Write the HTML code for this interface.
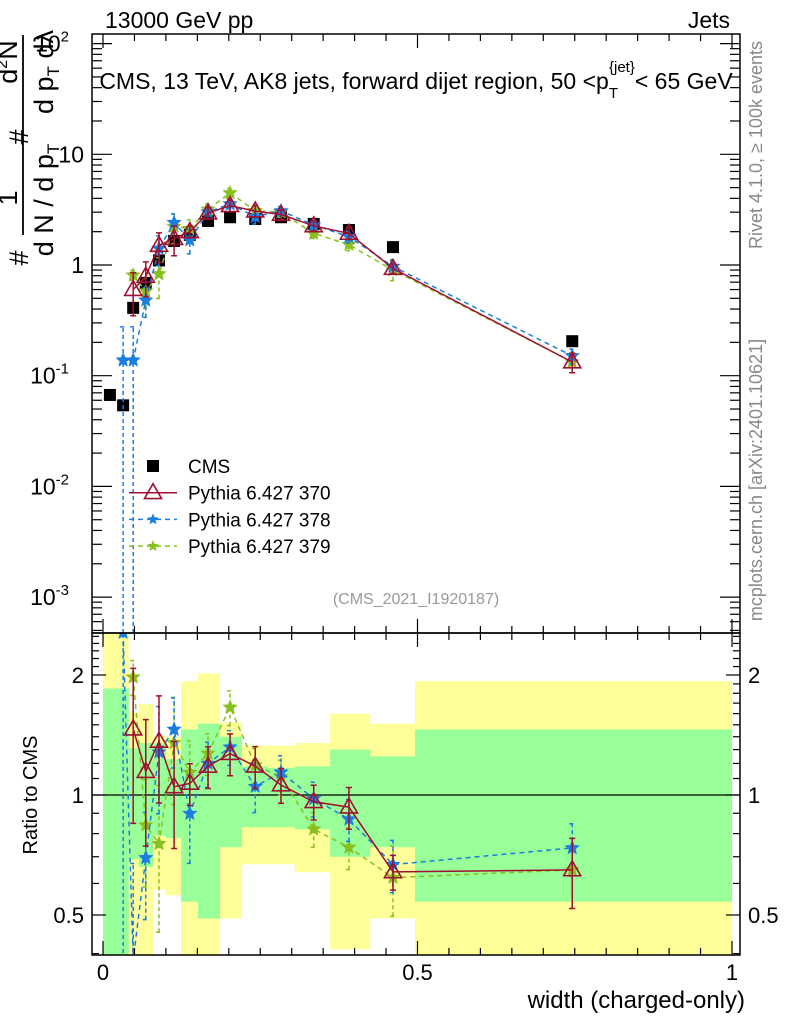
<!DOCTYPE html>
<html><head><meta charset="utf-8"><style>
html,body{margin:0;padding:0;background:#fff;width:786px;height:1024px;overflow:hidden;}
svg{display:block;font-family:"Liberation Sans",sans-serif;}
</style></head><body>
<svg id="plot" width="786" height="1024" viewBox="0 0 786 1024" xmlns="http://www.w3.org/2000/svg">
<defs>
<clipPath id="clipMain"><rect x="92" y="34" width="648" height="599"/></clipPath>
<clipPath id="clipRatio"><rect x="92" y="633" width="648" height="322"/></clipPath>
</defs>
<g id="bands" clip-path="url(#clipRatio)"></g>
<g id="mainSeries" clip-path="url(#clipMain)"></g>
<g id="ratioSeries" clip-path="url(#clipRatio)"></g>
<rect x="92" y="34" width="648" height="599" fill="none" stroke="#000" stroke-width="1.5"/>
<rect x="92" y="633" width="648" height="322" fill="none" stroke="#000" stroke-width="1.5"/>
<g id="ticks"></g>
<text x="105" y="28" font-size="23">13000 GeV pp</text>
<text x="730" y="28" font-size="23" text-anchor="end">Jets</text>
<text x="416" y="89" font-size="23" text-anchor="middle">CMS, 13 TeV, AK8 jets, forward dijet region, 50 &lt;p<tspan font-size="15" dy="9">T</tspan><tspan font-size="15" dy="-26" dx="-9">{jet}</tspan><tspan dy="17">&lt; 65 GeV</tspan></text>
<text transform="translate(762,145) rotate(-90)" font-size="18" fill="#888" text-anchor="middle">Rivet 4.1.0, ≥ 100k events</text>
<text transform="translate(762,480) rotate(-90)" font-size="18" fill="#888" text-anchor="middle">mcplots.cern.ch [arXiv:2401.10621]</text>
<text x="416" y="604" font-size="16" fill="#999" text-anchor="middle">(CMS_2021_I1920187)</text>
<g font-size="27">
<line x1="23" y1="35" x2="23" y2="235" stroke="#000" stroke-width="1.8"/>
<text transform="translate(28,258) rotate(-90)" text-anchor="middle">#</text>
<text transform="translate(17,198) rotate(-90)" text-anchor="middle">1</text>
<text transform="translate(53,200) rotate(-90)" text-anchor="middle">d N / d p<tspan font-size="17" dy="6">T</tspan></text>
<text transform="translate(28,137) rotate(-90)" text-anchor="middle">#</text>
<text transform="translate(17,62) rotate(-90)" text-anchor="middle">d<tspan font-size="16" dy="-10">2</tspan><tspan dy="10">N</tspan></text>
<text transform="translate(53,72) rotate(-90)" text-anchor="middle">d p<tspan font-size="17" dy="6">T</tspan><tspan dy="-6"> dλ</tspan></text>
</g>
<text transform="translate(37,795) rotate(-90)" font-size="20" text-anchor="middle">Ratio to CMS</text>
<text x="745" y="1008" font-size="24" text-anchor="end">width (charged-only)</text>
<g id="legend"></g>
</svg>
<script>
const binEdges=[0,0.02,0.04,0.055,0.08,0.1,0.125,0.15,0.185,0.22,0.26,0.305,0.36,0.425,0.495,1];
const binCenters=[0.011,0.032,0.048,0.068,0.089,0.113,0.138,0.167,0.202,0.242,0.283,0.335,0.391,0.461,0.746];
const cmsValues=[0.067,0.054,0.41,0.69,1.1,1.65,1.87,2.5,2.7,2.6,2.7,2.35,2.07,1.45,0.205];
const py370=[null,null,0.60,0.79,1.5,1.73,2.0,2.95,3.43,3.07,2.86,2.26,1.93,0.93,0.133];
const py370Err=[0,0,0.42,0.35,0.3,0.3,0.12,0.12,0.12,0.12,0.1,0.1,0.12,0.1,0.2];
const py378=[null,0.138,0.138,0.48,1.41,2.41,1.68,3.0,3.56,2.73,3.08,2.30,1.80,0.97,0.151];
const py378Err=[0,1.0,1.0,0.3,0.3,0.2,0.25,0.13,0.1,0.14,0.1,0.1,0.12,0.15,0.15];
const py379=[null,null,0.81,0.58,0.83,2.23,2.13,3.18,4.48,3.09,3.0,1.93,1.53,0.90,0.133];
const py379Err=[0,0,0.1,0.3,0.4,0.3,0.2,0.12,0.1,0.1,0.1,0.1,0.12,0.2,0.2];
const greenHi=[1.85,1.31,1.35,1.35,1.23,1.46,1.51,1.40,1.18,1.17,1.18,1.30,1.25,1.46];
const greenLo=[0.01,0.69,0.66,0.79,0.78,0.54,0.49,0.74,0.83,0.83,0.82,0.70,0.74,0.54];
const yellowHi=[3,1.61,1.69,1.41,1.40,1.93,2.02,1.52,1.33,1.33,1.35,1.60,1.51,1.93];
const yellowLo=[0.01,0.01,0.01,0.58,0.56,0.01,0.01,0.49,0.67,0.67,0.64,0.41,0.49,0.01];
const bandEdges=[0,0.041,0.057,0.08,0.1,0.124,0.151,0.186,0.221,0.261,0.305,0.361,0.425,0.496,1.0];
const xTicks=[0,0.5,1];
const yTickExps=[-3,-2,-1,0,1,2];
const ratioTicks=[0.5,1,2];

const NS="http://www.w3.org/2000/svg";
const X=v=>103+629*v;
const clamp=(a,lo,hi)=>Math.min(hi,Math.max(lo,a));
const Y=v=>clamp(265-110.7*Math.log10(v),30,640);
const R=v=>clamp(795-120*Math.log2(v),628,960);
function mk(tag,attrs,parent){const e=document.createElementNS(NS,tag);for(const k in attrs)e.setAttribute(k,attrs[k]);parent.appendChild(e);return e;}
const bands=document.getElementById('bands');
for(let i=0;i<yellowHi.length;i++){
  const r=mk('rect',{x:X(bandEdges[i]),y:R(yellowHi[i]),width:X(bandEdges[i+1])-X(bandEdges[i]),height:R(yellowLo[i])-R(yellowHi[i]),fill:'#ffff99'},bands);
  
  
}
for(let i=0;i<greenHi.length;i++){
  const r=mk('rect',{x:X(bandEdges[i]),y:R(greenHi[i]),width:X(bandEdges[i+1])-X(bandEdges[i]),height:R(greenLo[i])-R(greenHi[i]),fill:'#99ff99'},bands);
  
  
}
mk('line',{x1:92,x2:740,y1:R(1),y2:R(1),stroke:'#000','stroke-width':1.3},bands);

const ticks=document.getElementById('ticks');
function tk(x1,y1,x2,y2){mk('line',{x1,y1,x2,y2,stroke:'#000','stroke-width':1.2},ticks);}
for(let k=0;k<=20;k++){const v=k*0.05;const big=k%10==0;const L=big?14:7;const x=X(v);
  tk(x,955,x,955-L);tk(x,633,x,633+L);tk(x,633,x,633-L);tk(x,34,x,34+L);}
xTicks.forEach(v=>{const t=mk('text',{x:X(v),y:980,'font-size':22,'text-anchor':'middle'},ticks);t.textContent=String(v);
  });
for(let e=-4;e<=2;e++){for(let m=1;m<10;m++){const v=m*Math.pow(10,e);const y=265-110.7*Math.log10(v);if(y<34||y>633)continue;const L=m==1?20:10;tk(92,y,92+L,y);tk(740,y,740-L,y);}}
yTickExps.forEach(e=>{const y=Y(Math.pow(10,e));let t;
  if(e==0||e==1){t=mk('text',{x:84,y:y+8,'font-size':23,'text-anchor':'end'},ticks);t.textContent=e==0?'1':'10';}
  else{t=mk('text',{x:69,y:y+8,'font-size':23,'text-anchor':'end'},ticks);t.textContent='10';const s=mk('tspan',{'font-size':15,dy:-10},t);s.textContent=String(e);}
  });
[0.4,0.5,0.6,0.7,0.8,0.9,1,1.1,1.2,1.3,1.4,1.5,1.6,1.7,1.8,1.9,2,2.1,2.2,2.3,2.4,2.5].forEach(v=>{const y=795-120*Math.log2(v);if(y<633||y>955)return;const big=(v==0.5||v==1||v==2);const L=big?14:7;tk(92,y,92+L,y);tk(740,y,740-L,y);});
ratioTicks.forEach(v=>{const y=R(v)+8;
  const t=mk('text',{x:84,y,'font-size':22,'text-anchor':'end'},ticks);t.textContent=String(v);
  
  const t2=mk('text',{x:748,y,'font-size':22},ticks);t2.textContent=String(v);
  });

function star(cx,cy,r,color,parent){let p='';for(let i=0;i<10;i++){const a=-Math.PI/2+i*Math.PI/5;const rr=i%2?r*0.45:r;p+=(i?'L':'M')+(cx+rr*Math.cos(a)).toFixed(1)+','+(cy+rr*Math.sin(a)).toFixed(1);}return mk('path',{d:p+'Z',fill:color,stroke:color,'stroke-width':0.8},parent);}
function tri(cx,cy,r,color,parent){return mk('path',{d:`M${cx},${cy-r}L${cx+r*0.95},${cy+r*0.65}L${cx-r*0.95},${cy+r*0.65}Z`,fill:'none',stroke:color,'stroke-width':1.6},parent);}
const series=[
 {vals:py370,err:py370Err,color:'#a01030',dash:'',marker:'tri',name:'pythia-370'},
 {vals:py378,err:py378Err,color:'#1a7ee0',dash:'5,4',marker:'star',name:'pythia-378'},
 {vals:py379,err:py379Err,color:'#88c020',dash:'5,4',marker:'star',name:'pythia-379'}];
const mainG=document.getElementById('mainSeries'),ratioG=document.getElementById('ratioSeries');
cmsValues.forEach((v,i)=>{const r=mk('rect',{x:X(binCenters[i])-6,y:Y(v)-6,width:12,height:12,fill:'#000'},mainG);
  });
[2,1,0].forEach(si=>{const s=series[si];
 [[mainG,(v,i)=>Y(v)],[ratioG,(v,i)=>R(v/cmsValues[i])]].forEach(([g,fy])=>{
  let d='';s.vals.forEach((v,i)=>{if(v==null)return;d+=(d?'L':'M')+X(binCenters[i]).toFixed(1)+','+fy(v,i).toFixed(1);});
  const pl=mk('path',{d,fill:'none',stroke:s.color,'stroke-width':1.5,'stroke-dasharray':s.dash},g);
  
  s.vals.forEach((v,i)=>{if(v==null)return;const x=X(binCenters[i]);const lo=Math.max(v*(1-s.err[i]),1e-6),hi=v*(1+s.err[i]);
   const e=mk('path',{d:`M${x},${fy(lo,i)}L${x},${fy(hi,i)}M${x-3},${fy(lo,i)}L${x+3},${fy(lo,i)}M${x-3},${fy(hi,i)}L${x+3},${fy(hi,i)}`,stroke:s.color,'stroke-width':1.5,'stroke-dasharray':s.dash?'4,3':'',fill:'none'},g);
   
   const m=s.marker=='tri'?tri(x,fy(v,i),9,s.color,g):star(x,fy(v,i),7,s.color,g);
   });
 });});
const lg=document.getElementById('legend');
const labels=['CMS','Pythia 6.427 370','Pythia 6.427 378','Pythia 6.427 379'];
labels.forEach((lab,i)=>{const y=466+i*26.7;const g=mk('g',{},lg);
  
  if(i==0){mk('rect',{x:147,y:y-6,width:12,height:12,fill:'#000'},g);}
  else{const s=series[i-1];mk('line',{x1:129,x2:177,y1:y,y2:y,stroke:s.color,'stroke-width':1.5,'stroke-dasharray':s.dash},g);
    if(s.marker=='tri')tri(153,y,9,s.color,g);else star(153,y,5,s.color,g);}
  const t=mk('text',{x:188,y:y+7,'font-size':19},g);t.textContent=lab;});
</script>
</body></html>
